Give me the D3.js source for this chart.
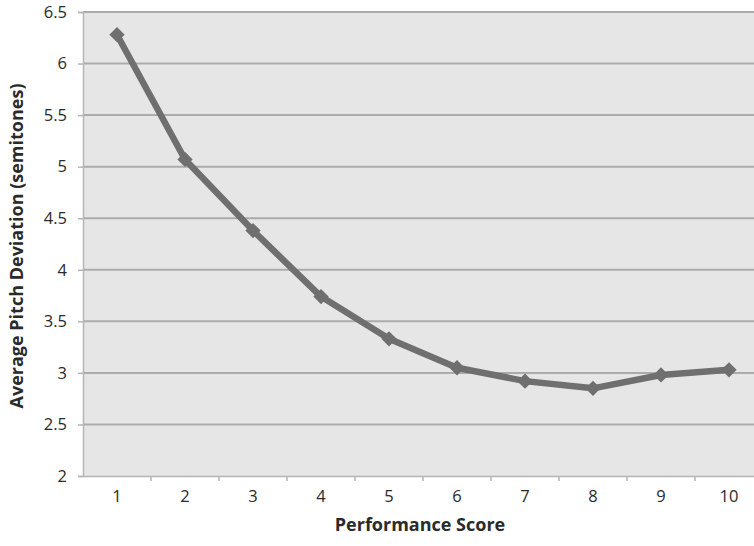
<!DOCTYPE html>
<html><head><meta charset="utf-8">
<script src="https://cdn.jsdelivr.net/npm/d3@7"></script>
<style>body{margin:0;background:#fff}svg{display:block}</style>
</head><body>
<script>
const scores = [1,2,3,4,5,6,7,8,9,10];
const deviation = [6.28,5.07,4.38,3.74,3.33,3.05,2.92,2.85,2.98,3.03];
const yTicks = [2,2.5,3,3.5,4,4.5,5,5.5,6,6.5];

const W=754,H=546;
const L=83, T=12, R=763, B=476;
const svg=d3.select("body").append("svg").attr("width",W).attr("height",H);
const x=d3.scaleBand().domain(scores).range([L,R]);
const y=d3.scaleLinear().domain([2,6.5]).range([B,T]);
const font="'Open Sans', 'Liberation Sans', sans-serif";

svg.append("rect").attr("x",L).attr("y",T).attr("width",R-L).attr("height",B-T).attr("fill","#e6e6e7");

svg.append("g").selectAll("line").data(yTicks.filter(d=>d>2)).join("line")
 .attr("x1",L).attr("x2",R).attr("y1",d=>y(d)).attr("y2",d=>y(d))
 .attr("stroke","#ababab").attr("stroke-width",2);

// y axis
const ya=svg.append("g").attr("transform",`translate(${L},0)`)
 .call(d3.axisLeft(y).tickValues(yTicks).tickFormat(d3.format("")).tickSize(5).tickPadding(11));
ya.select(".domain").attr("stroke","#b5b5b5").attr("stroke-width",1.5);
ya.selectAll(".tick line").attr("stroke","#b5b5b5").attr("stroke-width",1.5);
ya.selectAll("text").attr("font-family",font).attr("font-size",16.5).attr("fill","#2a2a2a");

// x axis
const xa=svg.append("g").attr("transform",`translate(0,${B})`)
 .call(d3.axisBottom(x).tickSize(0).tickPadding(14));
xa.select(".domain").attr("stroke","#b5b5b5").attr("stroke-width",1.5);
xa.selectAll("text").attr("font-family",font).attr("font-size",16.5).attr("fill","#2a2a2a");
svg.append("g").selectAll("line").data(scores).join("line")
 .attr("x1",d=>x(d)+x.bandwidth()).attr("x2",d=>x(d)+x.bandwidth())
 .attr("y1",B).attr("y2",B+5).attr("stroke","#b5b5b5").attr("stroke-width",1.5);

const cx=d=>x(d)+x.bandwidth()/2;
const line=d3.line().x((d,i)=>cx(scores[i])).y(d=>y(d));
svg.append("path").datum(deviation).attr("d",line).attr("fill","none")
 .attr("stroke","#6f6f6f").attr("stroke-width",6.5).attr("stroke-linejoin","round");
svg.append("g").selectAll("path").data(deviation).join("path")
 .attr("d",d3.symbol(d3.symbolDiamond2,150)())
 .attr("transform",(d,i)=>`translate(${cx(scores[i])},${y(d)})`)
 .attr("fill","#6f6f6f");

svg.append("text").attr("x",420).attr("y",531).attr("text-anchor","middle")
 .attr("font-family",font).attr("font-size",18).attr("font-weight","bold").attr("fill","#2a2a2a")
 .text("Performance Score");
svg.append("text").attr("transform","translate(23,246) rotate(-90)").attr("text-anchor","middle")
 .attr("font-family",font).attr("font-size",18).attr("font-weight","bold").attr("fill","#2a2a2a")
 .text("Average Pitch Deviation (semitones)");
</script>
</body></html>
